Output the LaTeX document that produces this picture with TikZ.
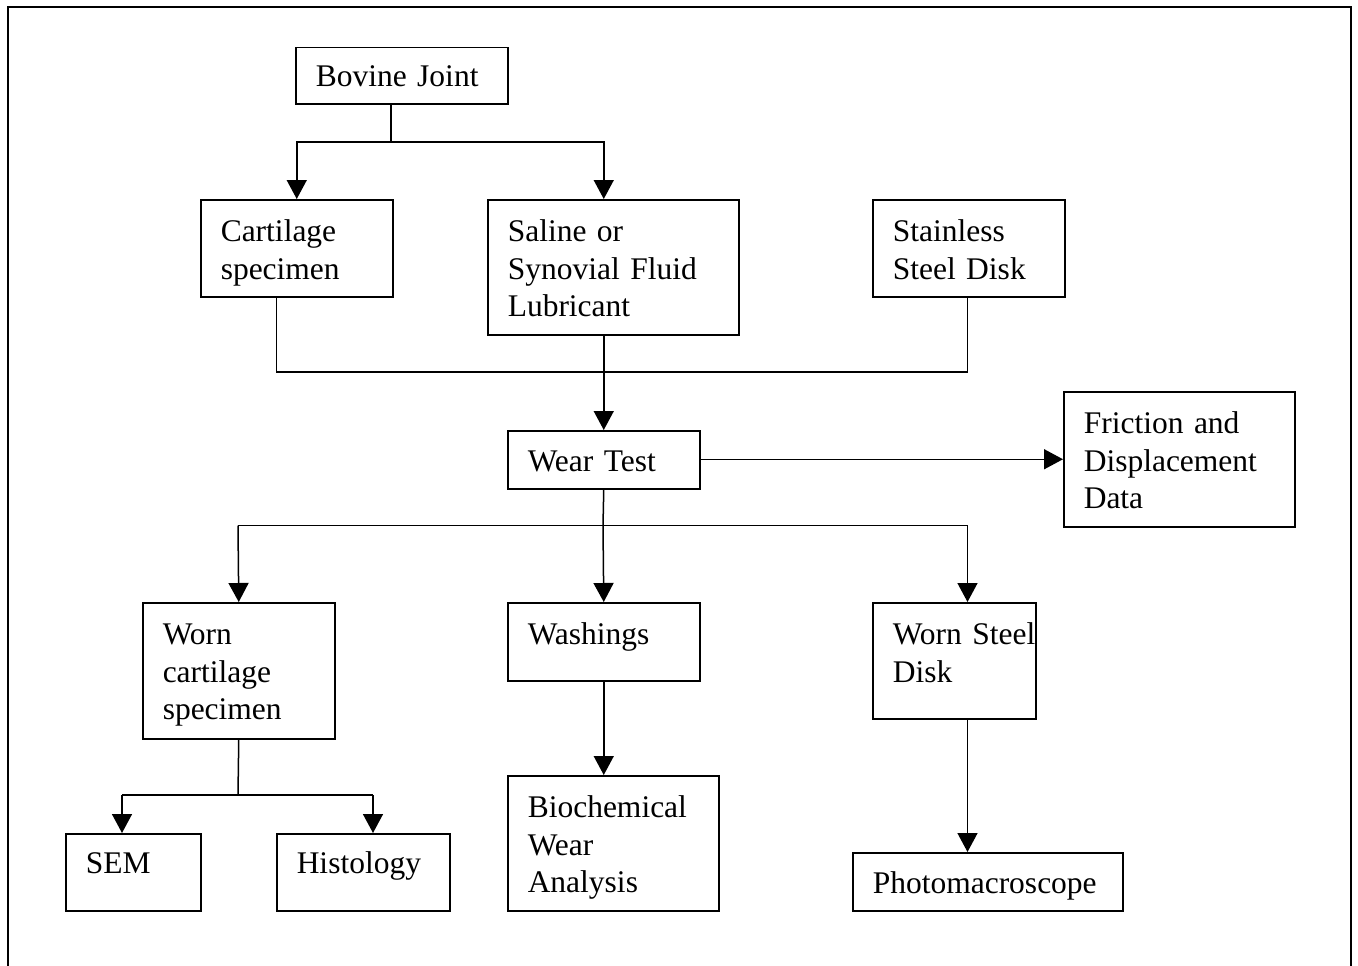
\documentclass[tikz,border=0pt]{standalone}
\usepackage{fontspec}
\setmainfont{Liberation Serif}
\usetikzlibrary{arrows.meta}
\newcommand\bt[3]{\rule{0pt}{#1pt}#3\rule[-#2pt]{0pt}{#2pt}}
\begin{document}
\begin{tikzpicture}[x=1pt,y=-1pt,
  box/.style={draw, line width=1.5pt, anchor=north west, inner xsep=20pt, inner ysep=0pt,
    align=left, font=\fontsize{31.5}{37.5}\selectfont},
  conn/.style={line width=1.5pt},
  arr/.style={line width=1.5pt, -{Triangle[width=20pt,length=19pt]}}]
\useasboundingbox (0,0) rectangle (1358,966);
\draw[line width=1.6pt] (8,970) -- (8,7) -- (1351,7) -- (1351,970);
% boxes
\node[box, text width=172pt] (bov) at (295,47) {\bt{39}{17}{Bovine Joint}};
\node[box, text width=152pt] (cart) at (200,199) {\bt{42}{17.5}{Cartilage\\specimen}};
\node[box, text width=211pt] (sal) at (487,199) {\bt{42}{18}{Saline or\\Synovial Fluid\\Lubricant}};
\node[box, text width=152pt] (ss) at (872,199) {\bt{42}{17.5}{Stainless\\Steel Disk}};
\node[box, text width=152pt] (wear) at (507,430) {\bt{41}{17}{Wear Test}};
\node[box, text width=191pt] (fric) at (1063,391) {\bt{42}{18}{Friction and\\Displacement\\Data}};
\node[box, text width=152pt] (worn) at (142,602) {\bt{42}{19}{Worn\\cartilage\\specimen}};
\node[box, text width=152pt] (wash) at (507,602) {\bt{42}{36}{Washings}};
\node[box, text width=123pt] (wsd) at (872,602) {\bt{42}{36.5}{Worn~Steel\\Disk}};
\node[box, text width=95pt] (sem) at (65,833) {\bt{40}{37}{SEM}};
\node[box, text width=133pt] (hist) at (276,833) {\bt{40}{37}{Histology}};
\node[box, text width=171pt] (bio) at (507,775) {\bt{42}{18}{Biochemical\\Wear\\Analysis}};
\node[box, text width=230pt] (photo) at (852,852) {\bt{41}{17}{Photomacroscope}};
% junction coordinates
\coordinate (j1) at (391,142);
\coordinate (cs) at (276.5,372);
\coordinate (j3) at (603,525.5);
\coordinate (c1) at (238,525.5);
\coordinate (c3) at (967.5,525.5);
\coordinate (j4) at (238,795);
\coordinate (s1) at (122,795);
\coordinate (h1) at (373,795);
% connectors
\draw[conn] (j1 |- bov.south) -- (j1);
\draw[arr] (j1) -| (cart.north);
\draw[arr] (j1) -| (wear.center |- sal.north);
\draw[conn] (cs |- cart.south) -- (cs) -| (c3 |- ss.south);
\draw[arr] (wear.center |- sal.south) -- (wear.north);
\draw[arr] (wear.east |- fric.west) -- (fric.west);
\draw[conn] (wear.south) -- (j3);
\draw[arr] (c1) -- (worn.north);
\draw[conn] (c1) -- (c3);
\draw[arr] (j3) -- (wash.north);
\draw[arr] (c3) -- (c3 |- wsd.north);
\draw[conn] (worn.south) -- (j4);
\draw[arr] (s1) -- (s1 |- sem.north);
\draw[conn] (s1) -- (h1);
\draw[arr] (h1) -- (h1 |- hist.north);
\draw[arr] (wash.south) -- (wash.south |- bio.north);
\draw[arr] (c3 |- wsd.south) -- (c3 |- photo.north);
\end{tikzpicture}
\end{document}
